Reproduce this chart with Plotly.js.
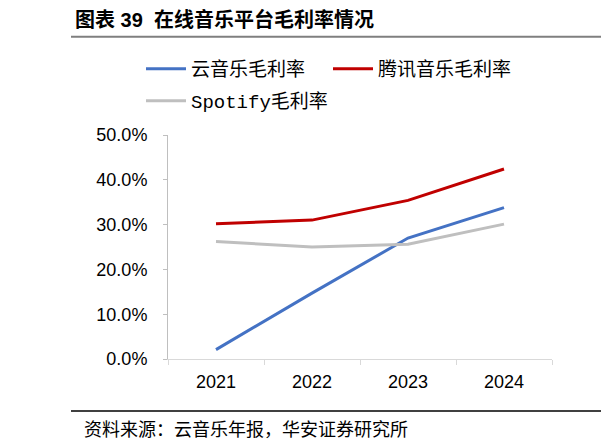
<!DOCTYPE html>
<html>
<head>
<meta charset="utf-8">
<script src="https://cdn.plot.ly/plotly-3.0.1.min.js"></script>
<style>html,body{margin:0;padding:0;background:#fff;}#chart{width:601px;height:448px;}</style>
</head>
<body>
<div id="chart"></div>
<script>
var years = ['2021', '2022', '2023', '2024'];
var cloudMusic = [2.1, 14.7, 27.0, 33.8];
var tencentMusic = [30.2, 31.0, 35.4, 42.4];
var spotify = [26.2, 25.0, 25.6, 30.1];
var seriesNames = ['云音乐毛利率', '腾讯音乐毛利率', 'Spotify毛利率'];
var titleText = '图表 39\u00a0\u00a0在线音乐平台毛利率情况';
var sourceText = '资料来源：云音乐年报，华安证券研究所';

var legendFont = {family: '"Liberation Mono", "Noto Sans CJK SC", monospace', size: 19, color: '#000'};

var traces = [
  {x: years, y: cloudMusic, name: seriesNames[0], type: 'scatter', mode: 'lines',
   line: {color: '#4472C4', width: 3}, legend: 'legend'},
  {x: years, y: tencentMusic, name: seriesNames[1], type: 'scatter', mode: 'lines',
   line: {color: '#C00000', width: 3}, legend: 'legend2'},
  {x: years, y: spotify, name: seriesNames[2], type: 'scatter', mode: 'lines',
   line: {color: '#BFBFBF', width: 3}, legend: 'legend3'}
];

function legendAt(left, top) {
  return {
    orientation: 'h', xref: 'container', yref: 'container',
    x: left / 601, y: 1 - top / 448, xanchor: 'left', yanchor: 'top',
    itemwidth: 40, font: legendFont, bgcolor: 'rgba(0,0,0,0)', borderwidth: 0
  };
}

var layout = {
  width: 601, height: 448,
  margin: {l: 168, r: 49, t: 135, b: 89, pad: 0},
  paper_bgcolor: '#fff', plot_bgcolor: '#fff',
  showlegend: true,
  font: {family: '"Liberation Sans", Arial, "Noto Sans CJK SC", sans-serif', color: '#000'},
  xaxis: {
    type: 'category', range: [-0.5, 3.5], fixedrange: true,
    showline: true, linecolor: '#D9D9D9', linewidth: 1,
    ticks: 'outside', tickson: 'boundaries', ticklen: 5, tickcolor: '#D9D9D9',
    showgrid: false, zeroline: false, ticklabelstandoff: 6,
    tickfont: {size: 18, color: '#000'}
  },
  yaxis: {
    range: [0, 50], dtick: 10, tick0: 0, tickformat: '.1f', ticksuffix: '%',
    showline: true, linecolor: '#BFBFBF', linewidth: 1,
    ticks: 'outside', ticklen: 4, tickcolor: '#BFBFBF',
    showgrid: false, zeroline: false, ticklabelstandoff: 12,
    tickfont: {size: 18, color: '#000'}
  },
  legend: legendAt(141, 50),
  legend2: legendAt(328, 50),
  legend3: legendAt(141, 82),
  shapes: [
    {type: 'line', xref: 'paper', yref: 'paper', x0: -97 / 384, x1: 433 / 384,
     y0: 1 + 98.3 / 224, y1: 1 + 98.3 / 224, line: {color: '#7F7F7F', width: 2}},
    {type: 'line', xref: 'paper', yref: 'paper', x0: -97 / 384, x1: 433 / 384,
     y0: -52 / 224, y1: -52 / 224, line: {color: '#000', width: 1.5}}
  ],
  annotations: [
    {text: '<b>' + titleText + '</b>', xref: 'paper', yref: 'paper',
     x: -95.5 / 384, y: 1 + 115 / 224, xanchor: 'left', yanchor: 'middle', showarrow: false,
     font: {family: '"Liberation Sans", Arial, "Noto Sans CJK SC", sans-serif', size: 20, color: '#000'}},
    {text: sourceText, xref: 'paper', yref: 'paper',
     x: -86 / 384, y: -69 / 224, xanchor: 'left', yanchor: 'middle', showarrow: false,
     font: {family: '"Noto Sans CJK SC", sans-serif', size: 18, color: '#000'}}
  ]
};

Plotly.newPlot('chart', traces, layout, {displayModeBar: false, staticPlot: true});
</script>
</body>
</html>
